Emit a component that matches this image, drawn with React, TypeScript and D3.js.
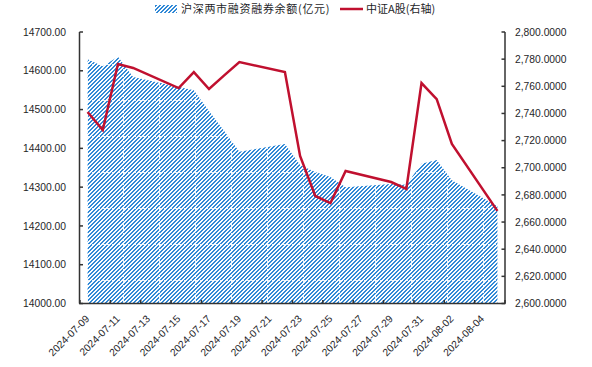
import React from 'react';
import * as d3 from 'd3';

// trading days and values
const dates = [
  '2024-07-09', '2024-07-10', '2024-07-11', '2024-07-12', '2024-07-15',
  '2024-07-16', '2024-07-17', '2024-07-18', '2024-07-19', '2024-07-22',
  '2024-07-23', '2024-07-24', '2024-07-25', '2024-07-26', '2024-07-29',
  '2024-07-30', '2024-07-31', '2024-08-01', '2024-08-02', '2024-08-05',
];
// 沪深两市融资融券余额 (亿元), left axis
const balance = [
  14630, 14612, 14636, 14584, 14558, 14550, 14496, 14445, 14391, 14411,
  14357, 14339, 14326, 14300, 14308, 14306, 14360, 14370, 14318, 14251,
];
// 中证A股, right axis
const csiA = [
  2741.1, 2727.8, 2776.4, 2773.5, 2758.7, 2770.5, 2758.0, 2768.0, 2777.9, 2770.5,
  2708.7, 2679.2, 2674.0, 2697.6, 2689.5, 2684.4, 2762.4, 2750.6, 2717.5, 2668.2,
];
const xTickLabels = [
  '2024-07-09', '2024-07-11', '2024-07-13', '2024-07-15', '2024-07-17',
  '2024-07-19', '2024-07-21', '2024-07-23', '2024-07-25', '2024-07-27',
  '2024-07-29', '2024-07-31', '2024-08-02', '2024-08-04',
];
const leftTicks = [14000, 14100, 14200, 14300, 14400, 14500, 14600, 14700];
const rightTicks = [2600, 2620, 2640, 2660, 2680, 2700, 2720, 2740, 2760, 2780, 2800];
const seriesNames = ['沪深两市融资融券余额(亿元)', '中证A股(右轴)'];

const W = 592;
const H = 367;
const plot = { left: 80, right: 505, top: 32, bottom: 303.5 };
const BLUE = '#3189d6';
const RED = '#c0102f';
const AXIS = '#333';
const TXT = '#1e1e28';
const FONT = '"Liberation Sans", Arial, sans-serif';
const CJK = '"Noto Sans CJK SC", sans-serif';

const parse = d3.utcParse('%Y-%m-%d');
const DAY = 86400000;

export default function App() {
  const first = parse(dates[0])!;
  const last = parse(dates[dates.length - 1])!;
  // date axis with half a day of room on both ends (Excel "between tick marks")
  const x = d3
    .scaleUtc()
    .domain([new Date(+first - DAY / 2), new Date(+last + DAY / 2)])
    .range([plot.left, plot.right]);
  const yL = d3.scaleLinear().domain([14000, 14700]).range([plot.bottom, plot.top]);
  const yR = d3.scaleLinear().domain([2600, 2800]).range([plot.bottom, plot.top]);

  const rows = dates.map((d, i) => ({ t: parse(d)!, b: balance[i], c: csiA[i] }));

  const area = d3
    .area<any>()
    .x((d) => x(d.t))
    .y0(yL(14000))
    .y1((d) => yL(d.b));
  const line = d3
    .line<any>()
    .x((d) => x(d.t))
    .y((d) => yR(d.c));

  // major ticks every 2 days, on day boundaries
  const tickDates = d3.range(0, 29, 2).map((k) => new Date(+first - DAY / 2 + k * DAY));

  // pixel-stair hatch tile, 36px like the picture's seams
  const tile = 36;
  const hatchRects: JSX.Element[] = [];
  for (let r = 0; r < tile; r++) {
    for (let c = -(r % 4); c < tile; c += 4) {
      hatchRects.push(<rect key={`${r}-${c}`} x={c} y={r} width={2} height={1} fill={BLUE} />);
    }
  }

  const fmtL = d3.format('.2f');
  const fmtR = d3.format(',.4f');

  return (
    <div style={{ position: 'fixed', left: 0, top: 0 }}>
      <svg width={W} height={H} style={{ display: 'block', background: '#fff' }}>
        <defs>
          <pattern id="hatch" patternUnits="userSpaceOnUse" width={tile} height={tile} x={15} y={28}>
            <rect width={tile} height={tile} fill="#fbfdff" />
            <g shapeRendering="crispEdges">{hatchRects}</g>
            <line x1={0} x2={tile} y1={0.5} y2={0.5} stroke="#fff" strokeWidth={1} strokeDasharray="3 2" opacity={0.85} />
            <line x1={0.5} x2={0.5} y1={0} y2={tile} stroke="#fff" strokeWidth={1} strokeDasharray="3 2" opacity={0.85} />
          </pattern>
          <pattern id="hatchLegend" patternUnits="userSpaceOnUse" width={tile} height={tile}>
            <rect width={tile} height={tile} fill="#fbfdff" />
            <g shapeRendering="crispEdges">{hatchRects}</g>
          </pattern>
        </defs>

        {/* area */}
        <path d={area(rows) || ''} fill="url(#hatch)" />

        {/* line */}
        <path d={line(rows) || ''} fill="none" stroke={RED} strokeWidth={2.5} strokeLinejoin="miter" />

        {/* axes */}
        <g stroke={AXIS} strokeWidth={1.5} fill="none">
          <line x1={plot.left - 0.5} x2={plot.left - 0.5} y1={plot.top} y2={plot.bottom} />
          <line x1={plot.right} x2={plot.right} y1={plot.top} y2={plot.bottom} />
          <line x1={plot.left - 1} x2={plot.right + 0.5} y1={plot.bottom} y2={plot.bottom} />
          {leftTicks.map((v) => (
            <line key={`lt${v}`} x1={plot.left - 0.5} x2={plot.left + 3} y1={yL(v)} y2={yL(v)} />
          ))}
          {rightTicks.map((v) => (
            <line key={`rt${v}`} x1={plot.right - 3.5} x2={plot.right} y1={yR(v)} y2={yR(v)} />
          ))}
          {tickDates.map((t, i) => (
            <line key={`xt${i}`} x1={x(t)} x2={x(t)} y1={plot.bottom} y2={plot.bottom - 3.5} />
          ))}
        </g>

        {/* axis labels */}
        <g fontFamily={FONT} fontSize={10.3} fill={TXT}>
          {leftTicks.map((v) => (
            <text key={`ll${v}`} x={66} y={yL(v)} dy="0.35em" textAnchor="end">
              {fmtL(v)}
            </text>
          ))}
          {rightTicks.map((v) => (
            <text key={`rl${v}`} x={515} y={yR(v)} dy="0.35em" textAnchor="start">
              {fmtR(v)}
            </text>
          ))}
          {xTickLabels.map((s) => {
            const px = x(parse(s)!);
            return (
              <text key={`xl${s}`} transform={`translate(${px + 2.5},${plot.bottom + 16}) rotate(-45)`} textAnchor="end">
                {s}
              </text>
            );
          })}
        </g>

        {/* legend */}
        <g fontFamily={CJK} fontSize={11} fill={TXT}>
          <rect x={155} y={5} width={22} height={8} fill="url(#hatchLegend)" />
          <text x={181} y={13} letterSpacing={0.7}>
            {seriesNames[0]}
          </text>
          <line x1={340} x2={363} y1={9} y2={9} stroke={RED} strokeWidth={2.5} />
          <text x={366} y={13}>
            {seriesNames[1]}
          </text>
        </g>
      </svg>
    </div>
  );
}
